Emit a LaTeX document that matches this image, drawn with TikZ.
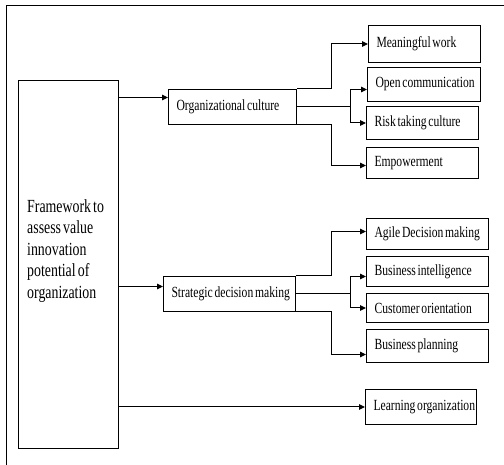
\documentclass[tikz,border=0pt]{standalone}
\usepackage{fontspec}
\setmainfont{Liberation Serif}[FakeStretch=0.75, WordSpace=0.6]
\usetikzlibrary{arrows.meta,calc}
\begin{document}
\begin{tikzpicture}[x=1pt,y=-1pt,
 box/.style={draw, line width=1pt, anchor=north west, inner xsep=8pt, inner ysep=0pt, align=left, font=\fontsize{15.5}{17}\selectfont, execute at begin node={\spaceskip=0pt\xspaceskip=0pt}},
 arr/.style={line width=1pt, -{Triangle[length=6pt,width=5.5pt]}},
 ln/.style={line width=1pt}]
\useasboundingbox (0,0) rectangle (504,465);
\draw[ln] (6,465) -- (6,6) -- (504,6);
% left framework box
\node[draw, line width=1pt, anchor=north west, minimum width=100pt, minimum height=368pt, inner sep=0pt] (fw) at (18,80) {};
\node[anchor=west, align=left, inner sep=0pt, font=\fontsize{18.5}{21.5}\selectfont] (fwt) at (27,251) {Framework to\\assess value\\innovation\\potential of\\organization};
% middle boxes
\node[box, text width=112pt, minimum height=35pt] (oc) at (168,89) {\mbox{Organizational culture}};
\node[box, text width=116pt, minimum height=35pt] (sdm) at (163,276) {\mbox{Strategic decision making}};
% right boxes
\node[box, text width=96pt, minimum height=37pt] (mw) at (368,25) {\mbox{Meaningful work}};
\node[box, text width=97pt, minimum height=34pt] (ocm) at (367,67) {\mbox{Open communication}};
\node[box, text width=96pt, minimum height=33pt] (rtc) at (366,106) {\mbox{Risk taking culture}};
\node[box, text width=96pt, minimum height=31pt] (emp) at (366,147) {\mbox{Empowerment}};
\node[box, text width=106pt, minimum height=31pt] (adm) at (366,218) {\mbox{Agile Decision making}};
\node[box, text width=106pt, minimum height=30pt] (bi) at (366,256) {\mbox{Business intelligence}};
\node[box, text width=106pt, minimum height=29pt] (co) at (366,293) {\mbox{Customer orientation}};
\node[box, text width=106pt, minimum height=33pt] (bp) at (366,329) {\mbox{Business planning}};
\node[box, text width=95pt, minimum height=35pt] (lo) at (365,389) {\mbox{Learning organization}};
% junction columns
\coordinate (j1) at (331,0);
\coordinate (j2) at (350,0);
% framework arrows
\coordinate (ocin) at ([yshift=9.5pt]oc.west);
\coordinate (sdmin) at ([yshift=7.5pt]sdm.west);
\draw[arr] (ocin -| fw.east) -- (ocin);
\draw[arr] (sdmin -| fw.east) -- (sdmin);
\draw[arr] (lo.west -| fw.east) -- (lo.west);
% organizational culture branches
\coordinate (mwin) at (mw.west);
\coordinate (ocmin) at ([yshift=-5pt]ocm.west);
\coordinate (empin) at ([yshift=-2.5pt]emp.west);
\draw[arr] (oc.north east) -- (oc.north east -| j1) |- (mwin);
\draw[ln] (oc.east) -- (oc.east -| j2);
\draw[arr] (oc.east -| j2) |- (ocmin);
\draw[arr] (oc.east -| j2) |- (rtc.west);
\draw[arr] (oc.south east) -- (oc.south east -| j1) |- (empin);
% strategic decision making branches
\coordinate (admin) at ([yshift=2.5pt]adm.west);
\coordinate (biin) at ([yshift=-5pt]bi.west);
\coordinate (bpin) at ([yshift=-8.5pt]bp.west);
\draw[arr] (sdm.north east) -- (sdm.north east -| j1) |- (admin);
\draw[ln] (sdm.east) -- (sdm.east -| j2);
\draw[arr] (sdm.east -| j2) |- (biin);
\draw[arr] (sdm.east -| j2) |- (co.west);
\draw[arr] (sdm.south east) -- (sdm.south east -| j1) |- (bpin);
\end{tikzpicture}
\end{document}
